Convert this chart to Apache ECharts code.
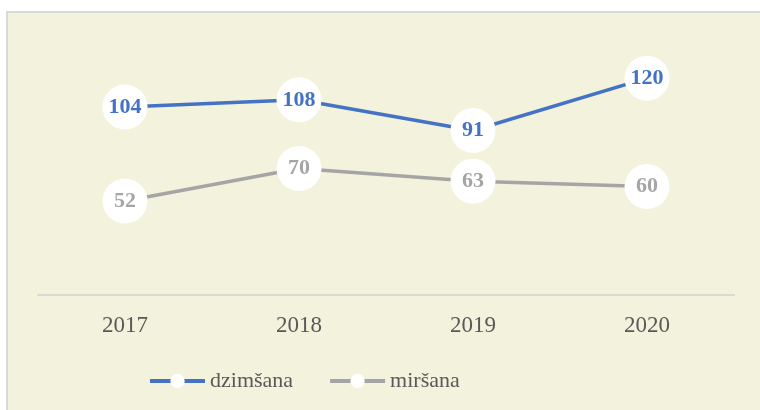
<!DOCTYPE html>
<html><head><meta charset="utf-8">
<script src="https://cdn.jsdelivr.net/npm/echarts@6/dist/echarts.min.js"></script>
<style>html,body{margin:0;padding:0;background:#fff}#c{width:760px;height:410px}</style>
</head><body><div id="c"></div>
<script>
const categories = ['2017', '2018', '2019', '2020'];
const births = [104, 108, 91, 120];
const deaths = [52, 70, 63, 60];
const seriesNames = ['dzimšana', 'miršana'];

const serif = "'Liberation Serif', 'DejaVu Serif', serif";
const chart = echarts.init(document.getElementById('c'), null, {renderer: 'canvas'});
function mk(name, data, color) {
  return {
    name: name, type: 'line', data: data,
    symbol: 'circle', symbolSize: 45,
    itemStyle: {color: '#ffffff', borderWidth: 0},
    lineStyle: {color: color, width: 3.5},
    label: {show: true, position: 'inside', color: color, fontFamily: serif, fontWeight: 'bold', fontSize: 22},
    emphasis: {disabled: true}
  };
}
chart.setOption({
  animation: false,
  backgroundColor: '#ffffff',
  graphic: [{type: 'rect', silent: true, z: -10, shape: {x: 7, y: 12, width: 800, height: 450},
    style: {fill: '#F3F2DC', stroke: '#D9D9D9', lineWidth: 2}}],
  grid: {left: 38, right: 26, top: 42, bottom: 115},
  xAxis: {type: 'category', data: categories, boundaryGap: true,
    axisLine: {lineStyle: {color: '#D9D9D9', width: 2}}, axisTick: {show: false},
    axisLabel: {color: '#595959', fontFamily: serif, fontSize: 23, margin: 19}},
  yAxis: {type: 'value', min: 0, max: 140, show: false, splitLine: {show: false}},
  legend: {left: 143, top: 365, itemWidth: 55, itemHeight: 18, itemGap: 35,
    lineStyle: {width: 4},
    textStyle: {color: '#595959', fontFamily: serif, fontSize: 22},
    data: seriesNames},
  series: [mk(seriesNames[0], births, '#4472C4'), mk(seriesNames[1], deaths, '#A5A5A5')]
});
</script></body></html>
